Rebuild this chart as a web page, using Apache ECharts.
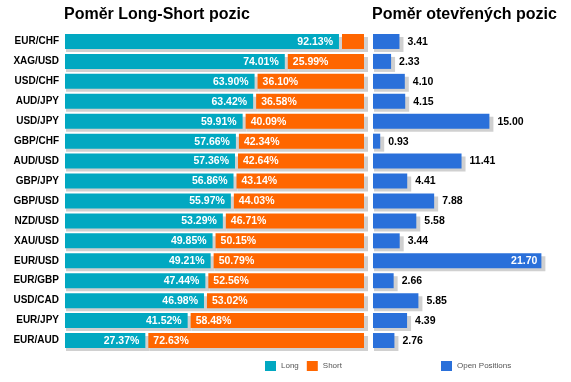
<!DOCTYPE html>
<html>
<head>
<meta charset="utf-8">
<script src="https://cdn.jsdelivr.net/npm/echarts@6/dist/echarts.min.js"></script>
<style>html,body{margin:0;padding:0;background:#fff}#c{width:571px;height:382px}</style>
</head>
<body>
<div id="c"></div>
<script>
const categories = ['EUR/CHF','XAG/USD','USD/CHF','AUD/JPY','USD/JPY','GBP/CHF','AUD/USD','GBP/JPY','GBP/USD','NZD/USD','XAU/USD','EUR/USD','EUR/GBP','USD/CAD','EUR/JPY','EUR/AUD'];
const longValues = [92.13,74.01,63.90,63.42,59.91,57.66,57.36,56.86,55.97,53.29,49.85,49.21,47.44,46.98,41.52,27.37];
const shortValues = [7.87,25.99,36.10,36.58,40.09,42.34,42.64,43.14,44.03,46.71,50.15,50.79,52.56,53.02,58.48,72.63];
const openValues = [3.41,2.33,4.10,4.15,15.00,0.93,11.41,4.41,7.88,5.58,3.44,21.70,2.66,5.85,4.39,2.76];

const TEAL = '#01A8C1', ORANGE = '#FF6600', BLUE = '#2A70DA', SHADOW = '#D0D0D0';
const FONT = 'Arial, "Liberation Sans", sans-serif';
const BAR_H = 15;

function longRender(params, api) {
  const idx = api.value(1), v = api.value(0);
  const p0 = api.coord([0, idx]), p1 = api.coord([v, idx]);
  const y = p0[1] - BAR_H / 2;
  const xe = p1[0] - 1.5;
  return {type: 'group', children: [
    {type: 'rect', shape: {x: p0[0] + 1, y: y + 3, width: xe - p0[0] + 3, height: BAR_H}, style: {fill: SHADOW}},
    {type: 'rect', shape: {x: p0[0], y: y, width: xe - p0[0], height: BAR_H}, style: {fill: TEAL}},
    {type: 'text', x: xe - 6, y: p0[1] + 0.5, style: {text: v.toFixed(2) + '%', fill: '#fff', fontSize: 10.5, fontWeight: 'bold', fontFamily: FONT, align: 'right', verticalAlign: 'middle'}}
  ]};
}
function shortRender(params, api) {
  const idx = api.value(2), lv = api.value(0), v = api.value(1);
  const p1 = api.coord([lv, idx]), p2 = api.coord([lv + v, idx]);
  const y = p1[1] - BAR_H / 2;
  const xs = p1[0] + 1.5;
  const children = [
    {type: 'rect', shape: {x: xs + 1, y: y + 3, width: p2[0] - xs + 3, height: BAR_H}, style: {fill: SHADOW}},
    {type: 'rect', shape: {x: xs, y: y, width: p2[0] - xs, height: BAR_H}, style: {fill: ORANGE}}
  ];
  if (v >= 10) children.push({type: 'text', x: xs + 5, y: p1[1] + 0.5, style: {text: v.toFixed(2) + '%', fill: '#fff', fontSize: 10.5, fontWeight: 'bold', fontFamily: FONT, align: 'left', verticalAlign: 'middle'}});
  return {type: 'group', children: children};
}
function openRender(params, api) {
  const idx = api.value(1), v = api.value(0);
  const p0 = api.coord([0, idx]), p1 = api.coord([v, idx]);
  const y = p0[1] - BAR_H / 2;
  const inside = v > 20;
  return {type: 'group', children: [
    {type: 'rect', shape: {x: p0[0] + 1, y: y + 3, width: p1[0] - p0[0] + 3, height: BAR_H}, style: {fill: SHADOW}},
    {type: 'rect', shape: {x: p0[0], y: y, width: p1[0] - p0[0], height: BAR_H}, style: {fill: BLUE}},
    {type: 'text', x: inside ? p1[0] - 4 : p1[0] + 8, y: p0[1] + 0.5, style: {text: v.toFixed(2), fill: inside ? '#fff' : '#000', fontSize: 10.5, fontWeight: 'bold', fontFamily: FONT, align: inside ? 'right' : 'left', verticalAlign: 'middle'}}
  ]};
}

const chart = echarts.init(document.getElementById('c'));
chart.setOption({
  animation: false,
  title: [
    {text: 'Poměr Long-Short pozic', left: 64, top: 7, padding: 0, textStyle: {fontSize: 16, fontWeight: 'bold', color: '#000', fontFamily: FONT}},
    {text: 'Poměr otevřených pozic', left: 372, top: 7, padding: 0, textStyle: {fontSize: 16, fontWeight: 'bold', color: '#000', fontFamily: FONT}}
  ],
  legend: [
    {data: ['Long', 'Short'], left: 265, top: 361, padding: 0, itemWidth: 11, itemHeight: 10, itemGap: 8, icon: 'rect', textStyle: {fontSize: 8, color: '#555', fontFamily: FONT}},
    {data: ['Open Positions'], left: 441, top: 361, padding: 0, itemWidth: 11, itemHeight: 10, icon: 'rect', textStyle: {fontSize: 8, color: '#555', fontFamily: FONT}}
  ],
  grid: [
    {left: 65, width: 299, top: 31.5, height: 319},
    {left: 373, width: 194, top: 31.5, height: 319}
  ],
  xAxis: [
    {gridIndex: 0, type: 'value', min: 0, max: 100, show: false},
    {gridIndex: 1, type: 'value', min: 0, max: 25, show: false}
  ],
  yAxis: [
    {gridIndex: 0, type: 'category', data: categories, inverse: true, axisLine: {show: false}, axisTick: {show: false},
     axisLabel: {margin: 6, fontSize: 10, fontWeight: 'bold', color: '#000', fontFamily: FONT}},
    {gridIndex: 1, type: 'category', data: categories, inverse: true, show: false}
  ],
  series: [
    {name: 'Long', type: 'custom', xAxisIndex: 0, yAxisIndex: 0, itemStyle: {color: TEAL},
     data: longValues.map((v, i) => [v, i]), encode: {x: 0, y: 1}, renderItem: longRender},
    {name: 'Short', type: 'custom', xAxisIndex: 0, yAxisIndex: 0, itemStyle: {color: ORANGE},
     data: shortValues.map((v, i) => [longValues[i], v, i]), encode: {x: 0, y: 2}, renderItem: shortRender},
    {name: 'Open Positions', type: 'custom', xAxisIndex: 1, yAxisIndex: 1, itemStyle: {color: BLUE},
     data: openValues.map((v, i) => [v, i]), encode: {x: 0, y: 1}, renderItem: openRender}
  ]
});
</script>
</body>
</html>
